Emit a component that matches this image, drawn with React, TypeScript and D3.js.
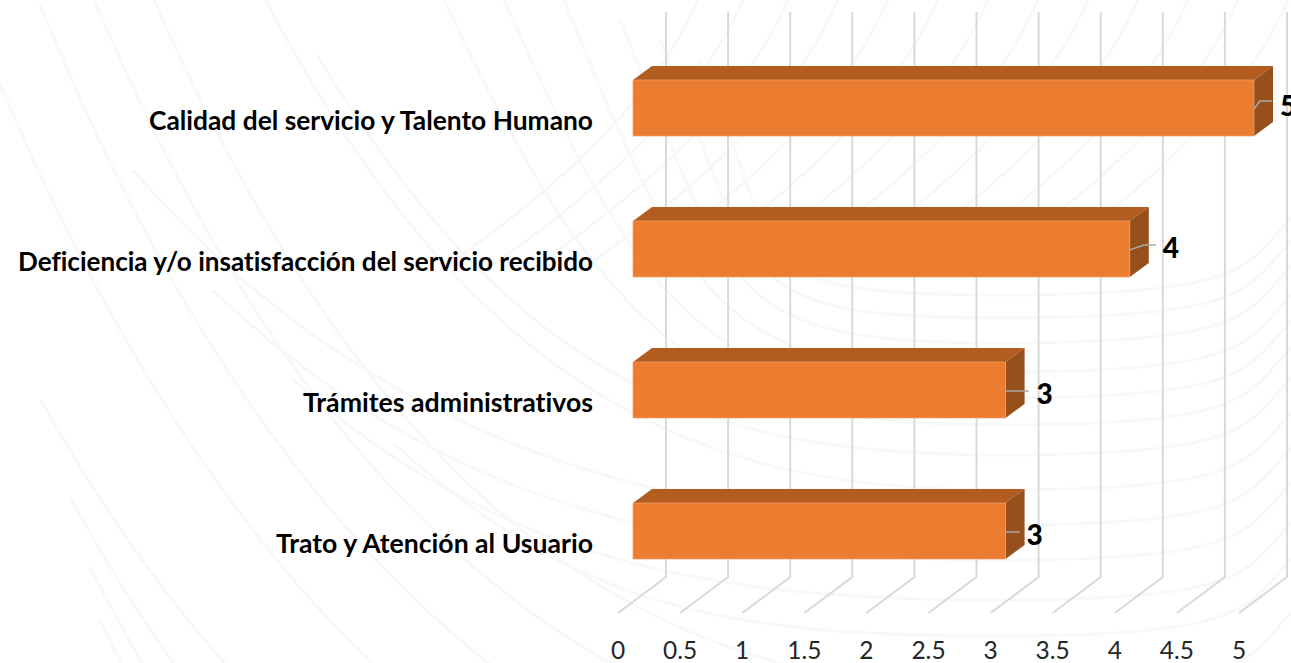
import React, { useEffect } from "react";
import * as d3 from "d3";

const categories = [
  "Calidad del servicio y Talento Humano",
  "Deficiencia y/o insatisfacción del servicio recibido",
  "Trámites administrativos",
  "Trato y Atención al Usuario",
];
const values = [5, 4, 3, 3];
const tickValues = [0, 0.5, 1, 1.5, 2, 2.5, 3, 3.5, 4, 4.5, 5, 5.5];
const tickLabels = ["0", "0.5", "1", "1.5", "2", "2.5", "3", "3.5", "4", "4.5", "5", ""];

const W = 1291, H = 663;
const FONT = "Lato, 'Open Sans', sans-serif";
const depthX = 19, depthY = -14;

// rendered width of each category label
const labelWidths = [444, 575, 290, 317];

// leader line bends for each bar, relative to the bar end
const leaders: [number, number][][] = [
  [[0, 29], [6, 21], [18, 21]],
  [[0, 29], [14, 24], [26, 24]],
  [[0, 29], [23, 29]],
  [[0, 29], [14, 29]],
];
const labelDx = [34, 41, 39, 29];
const labelDy = [25, 26, 31, 31];

// faint watermark: where each swirl band starts and how low it reaches
const swirlStarts: [number, number, number][] = [
  [700, 60, 295], [660, 40, 318], [620, 20, 343], [560, -10, 372], [500, -10, 398],
  [440, -10, 425], [317, 55, 455], [260, -10, 490], [133, 170, 525], [213, 290, 560],
  [290, 377, 600], [393, 443, 636], [150, -10, 690], [90, -10, 760], [40, 5, 840],
  [-10, 60, 930], [41, 400, 1010], [70, 497, 1100], [90, 567, 1200], [100, 620, 1300],
];
const fanTops = [700, 745, 790, 840, 890, 940, 990, 1040, 1090, 1140, 1190, 1240, 1290];

export default function App() {
  useEffect(() => {
    document.body.style.margin = "0";
    document.body.style.overflow = "hidden";
    document.body.style.background = "#fff";
  }, []);

  const x = d3.scaleLinear().domain([0, 5]).range([633, 1254]);
  const y = d3.scaleBand().domain(categories).range([37.5, 601.5]);
  const band = 56;
  const yTop = (c: string) => y(c)! + y.bandwidth() / 2 - band / 2;
  const line = d3.line();

  return (
    <svg width={W} height={H} viewBox={`0 0 ${W} ${H}`} style={{ display: "block", position: "absolute", left: 0, top: 0 }}>
      <rect width={W} height={H} fill="#fff" />
      <g fill="none" stroke="#f7f8f9" strokeWidth={3}>
        {swirlStarts.map(([sx, sy, by]) => (
          <path key={`${sx}-${sy}`} d={`M${sx},${sy} C${sx + 0.3 * (1000 - sx)},${sy + 0.85 * (by - sy)} 720,${by} 1000,${by} S1240,${by - 35} 1310,${by - 95}`} />
        ))}
        {fanTops.map((tx) => (
          <path key={tx} d={`M${tx},-5 Q${tx - 55},130 ${tx - 260},270`} />
        ))}
      </g>

      <g>
        {tickValues.map((t, i) => {
          const fx = x(t) - 15, fy = 613;
          const bx = fx + 48, by = 577;
          return (
            <g key={t}>
              <path d={line([[fx, fy], [bx, by], [bx, 12]]) || ""} fill="none" stroke="#d9d9d9" strokeWidth={2} />
              {tickLabels[i] && <text x={fx} y={659} textAnchor="middle" fontFamily={FONT} fontSize={24.5} fill="#262626">{tickLabels[i]}</text>}
            </g>
          );
        })}
      </g>

      {categories.map((c, i) => {
        const top = yTop(c), x0 = x(0), x1 = x(values[i]), b = top + band;
        return (
          <g key={c}>
            <path d={line([[x0, top], [x0 + depthX, top + depthY], [x1 + depthX, top + depthY], [x1, top]]) + "Z"} fill="#b25c20" />
            <path d={line([[x1, top], [x1 + depthX, top + depthY], [x1 + depthX, b + depthY], [x1, b]]) + "Z"} fill="#97501b" />
            <rect x={x0} y={top} width={x1 - x0} height={band} fill="#ec7c30" stroke="#f2a06a" strokeWidth={0.7} />
            <path d={line(leaders[i].map(([dx, dy]) => [x1 + dx, top + dy] as [number, number])) || ""} fill="none" stroke="#a6a6a6" strokeWidth={1.5} />
            <text x={x1 + labelDx[i]} y={top + labelDy[i]} dominantBaseline="central" textAnchor="middle" fontFamily={FONT} fontWeight={900} fontSize={28} fill="#000">{values[i]}</text>
            <text x={593 - labelWidths[i]} y={top + 50} textLength={labelWidths[i]} lengthAdjust="spacingAndGlyphs" fontFamily={FONT} fontWeight={700} fontSize={26.4} fill="#000" style={{ fontVariantLigatures: "none" }}>{c}</text>
          </g>
        );
      })}
    </svg>
  );
}
